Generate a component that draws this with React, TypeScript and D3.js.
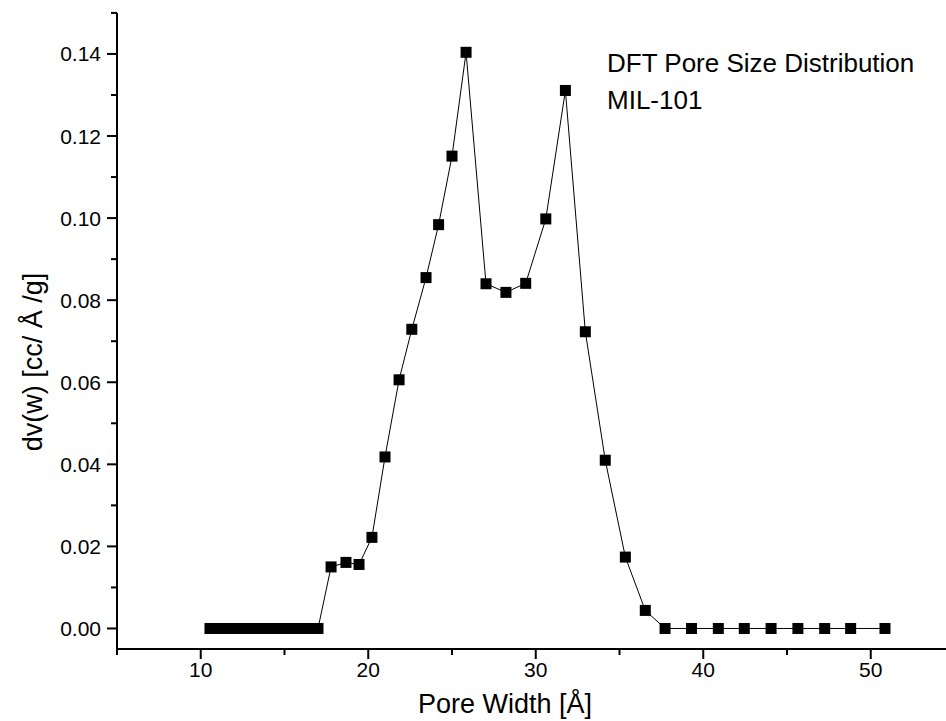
import React from "react";
import * as d3 from "d3";

const poreWidth: number[] = [
  10.55, 11.14, 11.72, 12.31, 12.9, 13.49, 14.07, 14.66, 15.25, 15.83, 16.42, 17.0,
  17.78, 18.67, 19.45, 20.22, 21.0, 21.84, 22.6, 23.45, 24.2, 25.0, 25.84,
  27.03, 28.22, 29.4, 30.6, 31.77, 32.96, 34.15, 35.35, 36.54,
  37.72, 39.3, 40.9, 42.45, 44.05, 45.65, 47.25, 48.8, 50.85,
];
const dvw: number[] = [
  0, 0, 0, 0, 0, 0, 0, 0, 0, 0, 0, 0,
  0.015, 0.0161, 0.0156, 0.0222, 0.0418, 0.0606, 0.0729, 0.0855, 0.0984, 0.1151, 0.1404,
  0.084, 0.0819, 0.0841, 0.0998, 0.1311, 0.0723, 0.041, 0.0174, 0.0044,
  0, 0, 0, 0, 0, 0, 0, 0, 0,
];
const xMajorTicks: number[] = [10, 20, 30, 40, 50];
const xMinorTicks: number[] = [5, 15, 25, 35, 45, 55];
const yMajorTicks: number[] = [0, 0.02, 0.04, 0.06, 0.08, 0.1, 0.12, 0.14];
const yMinorTicks: number[] = [0.01, 0.03, 0.05, 0.07, 0.09, 0.11, 0.13, 0.15];
const xTitle = "Pore Width [Å]";
const yTitle = "dv(w) [cc/ Å /g]";
const noteLines: string[] = ["DFT Pore Size Distribution", "MIL-101"];

const W = 946;
const H = 721;
const FONT = "'Liberation Sans', Arial, sans-serif";

export default function App() {
  const x = d3.scaleLinear().domain([5, 55]).range([117, 954.5]);
  const y = d3.scaleLinear().domain([-0.005, 0.15]).range([649, 12.9]);
  const pts = poreWidth.map((v, i) => ({ x: v, y: dvw[i] }));
  const line = d3
    .line<{ x: number; y: number }>()
    .x((d) => x(d.x))
    .y((d) => y(d.y));
  const axisY0 = y(-0.005);
  const axisX0 = x(5);
  const ms = 11;
  return (
    <svg
      width={W}
      height={H}
      style={{ position: "absolute", left: 0, top: 0, background: "#fff" }}
    >
      <rect x={0} y={0} width={W} height={H} fill="#fff" />
      <line x1={axisX0} x2={W} y1={axisY0} y2={axisY0} stroke="#000" strokeWidth={2} />
      <line x1={axisX0} x2={axisX0} y1={y(0.15)} y2={axisY0 + 1} stroke="#000" strokeWidth={2} />
      {xMajorTicks.map((t) => (
        <g key={"xm" + t}>
          <line x1={x(t)} x2={x(t)} y1={axisY0} y2={axisY0 + 10} stroke="#000" strokeWidth={2} />
          <text
            x={x(t)}
            y={axisY0 + 28}
            textAnchor="middle"
            fontFamily={FONT}
            fontSize={21}
            fill="#000"
          >
            {t}
          </text>
        </g>
      ))}
      {xMinorTicks.map((t) => (
        <line key={"xn" + t} x1={x(t)} x2={x(t)} y1={axisY0} y2={axisY0 + 6} stroke="#000" strokeWidth={2} />
      ))}
      {yMajorTicks.map((t) => (
        <g key={"ym" + t}>
          <line x1={axisX0} x2={axisX0 - 10} y1={y(t)} y2={y(t)} stroke="#000" strokeWidth={2} />
          <text
            x={axisX0 - 16}
            y={y(t) + 7.5}
            textAnchor="end"
            fontFamily={FONT}
            fontSize={21}
            fill="#000"
          >
            {t.toFixed(2)}
          </text>
        </g>
      ))}
      {yMinorTicks.map((t) => (
        <line key={"yn" + t} x1={axisX0} x2={axisX0 - 6} y1={y(t)} y2={y(t)} stroke="#000" strokeWidth={2} />
      ))}
      <text
        x={505}
        y={713}
        textAnchor="middle"
        fontFamily={FONT}
        fontSize={27}
        fill="#000"
      >
        {xTitle}
      </text>
      <text
        transform={`translate(42, ${362}) rotate(-90)`}
        textAnchor="middle"
        fontFamily={FONT}
        fontSize={27}
        fill="#000"
      >
        {yTitle}
      </text>
      {noteLines.map((s, i) => (
        <text
          key={s}
          x={607}
          y={72 + i * 37}
          fontFamily={FONT}
          fontSize={26}
          fill="#000"
        >
          {s}
        </text>
      ))}
      <path d={line(pts) || ""} fill="none" stroke="#000" strokeWidth={1} />
      {pts.map((p, i) => (
        <rect
          key={i}
          x={x(p.x) - ms / 2}
          y={y(p.y) - ms / 2}
          width={ms}
          height={ms}
          fill="#000"
        />
      ))}
    </svg>
  );
}
